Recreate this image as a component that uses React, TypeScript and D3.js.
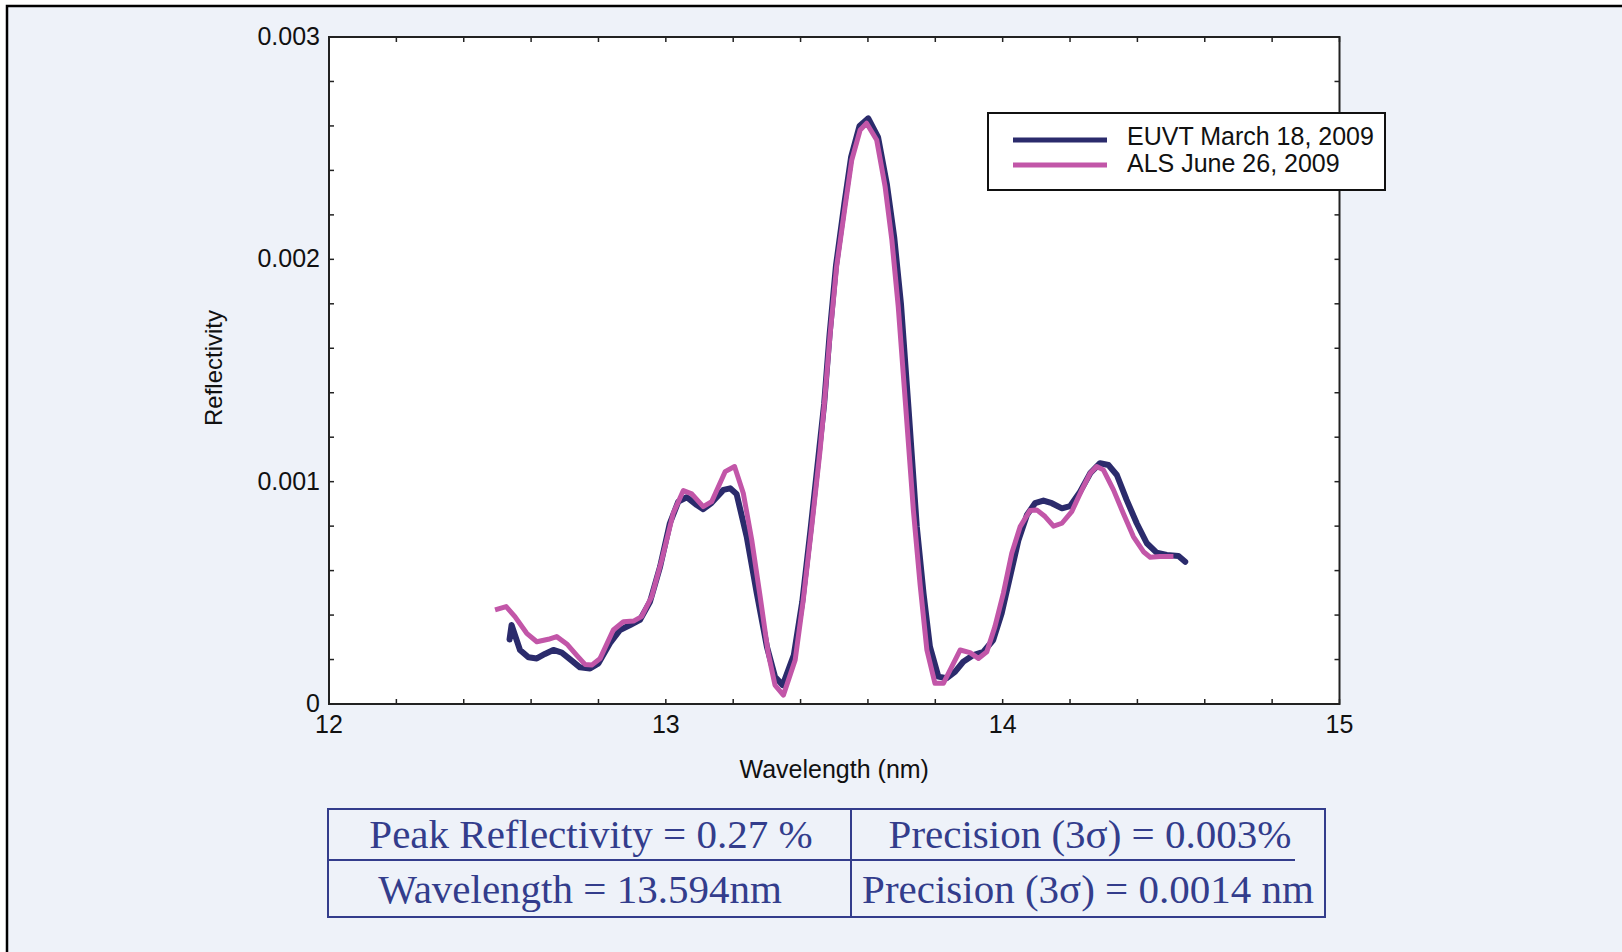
import * as d3 from 'd3';

// axis ticks
const xTicks = [12, 13, 14, 15];
const yTicks = [0, 0.001, 0.002, 0.003];
const yTickLabels = ['0', '0.001', '0.002', '0.003'];

const seriesNames = ['EUVT March 18, 2009', 'ALS June 26, 2009'];

// wavelength (nm), reflectivity
const euvt: [number, number][] = [
  [12.536, 0.00029], [12.542, 0.000355], [12.567, 0.000243], [12.592, 0.00021],
  [12.617, 0.000205], [12.641, 0.000225], [12.666, 0.000243], [12.691, 0.000231],
  [12.716, 0.000201], [12.745, 0.000165], [12.775, 0.00016], [12.8, 0.000183],
  [12.834, 0.000273], [12.864, 0.000333], [12.894, 0.000355], [12.923, 0.000378],
  [12.953, 0.00046], [12.983, 0.000618], [13.012, 0.000813], [13.037, 0.00091],
  [13.062, 0.00093], [13.092, 0.000895], [13.111, 0.000876], [13.136, 0.000905],
  [13.171, 0.000963], [13.191, 0.00097], [13.21, 0.000945], [13.24, 0.000753],
  [13.27, 0.000498], [13.3, 0.000258], [13.324, 0.000123], [13.347, 0.000085],
  [13.38, 0.00022], [13.405, 0.00046], [13.43, 0.00079], [13.455, 0.00114],
  [13.47, 0.00135], [13.486, 0.00166], [13.505, 0.00197], [13.53, 0.00225],
  [13.55, 0.00246], [13.575, 0.0026], [13.601, 0.002634], [13.63, 0.00255],
  [13.656, 0.00234], [13.678, 0.0021], [13.698, 0.0018], [13.72, 0.00134],
  [13.745, 0.000798], [13.765, 0.000498], [13.784, 0.000258], [13.809, 0.000123],
  [13.834, 0.000116], [13.859, 0.000146], [13.883, 0.00019], [13.913, 0.00022],
  [13.943, 0.000235], [13.972, 0.000288], [13.997, 0.000408], [14.022, 0.000573],
  [14.047, 0.000738], [14.072, 0.00085], [14.096, 0.000903], [14.121, 0.000915],
  [14.146, 0.000903], [14.176, 0.00088], [14.2, 0.00089], [14.23, 0.000955],
  [14.26, 0.001038], [14.289, 0.001083], [14.314, 0.001075], [14.339, 0.00103],
  [14.368, 0.000918], [14.398, 0.000813], [14.428, 0.000723], [14.457, 0.000681],
  [14.487, 0.00067], [14.522, 0.000666], [14.542, 0.00064],
];

const als: [number, number][] = [
  [12.493, 0.000423], [12.526, 0.000438], [12.552, 0.000393], [12.587, 0.000318],
  [12.617, 0.00028], [12.651, 0.000291], [12.676, 0.000303], [12.706, 0.00027],
  [12.735, 0.00022], [12.76, 0.000178], [12.78, 0.000175], [12.805, 0.000205],
  [12.844, 0.000333], [12.874, 0.00037], [12.904, 0.000373], [12.928, 0.000393],
  [12.958, 0.000483], [12.988, 0.000648], [13.022, 0.000858], [13.052, 0.00096],
  [13.077, 0.000945], [13.111, 0.000888], [13.136, 0.00091], [13.176, 0.001045],
  [13.204, 0.001068], [13.23, 0.000948], [13.255, 0.000738], [13.28, 0.000483],
  [13.304, 0.000228], [13.324, 0.000085], [13.349, 0.00004], [13.384, 0.000198],
  [13.408, 0.000468], [13.433, 0.000797], [13.458, 0.001142], [13.47, 0.00134],
  [13.488, 0.001667], [13.507, 0.001967], [13.532, 0.002237], [13.552, 0.002447],
  [13.577, 0.002582], [13.596, 0.002612], [13.626, 0.002537], [13.651, 0.002327],
  [13.671, 0.002087], [13.69, 0.001787], [13.712, 0.00134], [13.735, 0.00087],
  [13.755, 0.000535], [13.775, 0.000243], [13.799, 0.000093], [13.824, 0.000093],
  [13.849, 0.000168], [13.874, 0.000243], [13.903, 0.000231], [13.928, 0.000205],
  [13.953, 0.000235], [13.977, 0.000348], [14.002, 0.000498], [14.027, 0.000678],
  [14.052, 0.000798], [14.081, 0.00087], [14.101, 0.000873], [14.126, 0.000843],
  [14.151, 0.0008], [14.176, 0.000813], [14.205, 0.000865], [14.235, 0.000963],
  [14.26, 0.001038], [14.279, 0.001068], [14.299, 0.001053], [14.329, 0.000963],
  [14.358, 0.000858], [14.388, 0.000753], [14.418, 0.000685], [14.438, 0.00066],
  [14.467, 0.000663], [14.507, 0.000663],
];

const tableRows = [
  ['Peak Reflectivity = 0.27 %', 'Precision (3σ) = 0.003%'],
  ['Wavelength = 13.594nm', 'Precision (3σ) = 0.0014 nm'],
];

const W = 1622;
const H = 952;
const NAVY = '#2b2b6c';
const PINK = '#c256a8';
const TABLE_BLUE = '#333d8c';
const sans = 'Liberation Sans, Arial, sans-serif';
const serif = 'Liberation Serif, Times New Roman, serif';

export default function App() {
  const plot = { left: 329, right: 1339.5, top: 37, bottom: 704 };
  const x = d3.scaleLinear().domain([12, 15]).range([plot.left, plot.right]);
  const y = d3.scaleLinear().domain([0, 0.003]).range([plot.bottom, plot.top]);

  const line = d3
    .line<[number, number]>()
    .x(d => x(d[0]))
    .y(d => y(d[1]));

  const xMinor = d3.range(0, 16).map(i => 12 + i * 0.2);
  const yMinor = d3.range(0, 16).map(i => i * 0.0002);

  // table geometry
  const tb = { left: 328, right: 1325, top: 809, mid: 860, bottom: 917, col: 851 };

  return (
    <svg width={W} height={H} style={{ position: 'absolute', left: 0, top: 0 }}>
      <rect x={0} y={0} width={W} height={H} fill="#fff" />
      <rect x={7} y={6} width={W} height={H} fill="#eef2f9" />
      <path d={`M7,${H} V6 H${W}`} fill="none" stroke="#000" strokeWidth={2.5} />

      {/* plot area */}
      <rect
        x={plot.left}
        y={plot.top}
        width={plot.right - plot.left}
        height={plot.bottom - plot.top}
        fill="#fff"
        stroke="#222"
        strokeWidth={2}
      />

      {/* minor ticks, inward on all four sides */}
      <g stroke="#222" strokeWidth={1.5}>
        {xMinor.map((v, i) => (
          <g key={'xm' + i}>
            <line x1={x(v)} x2={x(v)} y1={plot.bottom} y2={plot.bottom - 5} />
            <line x1={x(v)} x2={x(v)} y1={plot.top} y2={plot.top + 5} />
          </g>
        ))}
        {yMinor.map((v, i) => (
          <g key={'ym' + i}>
            <line x1={plot.left} x2={plot.left + 5} y1={y(v)} y2={y(v)} />
            <line x1={plot.right} x2={plot.right - 5} y1={y(v)} y2={y(v)} />
          </g>
        ))}
      </g>

      {/* tick labels */}
      <g fontFamily={sans} fontSize={25} fill="#111">
        {xTicks.map(v => (
          <text key={'xt' + v} x={x(v)} y={plot.bottom + 29} textAnchor="middle">
            {v}
          </text>
        ))}
        {yTicks.map((v, i) => (
          <text key={'yt' + v} x={plot.left - 9} y={y(v) + 8} textAnchor="end">
            {yTickLabels[i]}
          </text>
        ))}
      </g>

      <text x={(plot.left + plot.right) / 2} y={778} textAnchor="middle" fontFamily={sans} fontSize={25} fill="#111">
        Wavelength (nm)
      </text>
      <text
        transform={`translate(222,368) rotate(-90)`}
        textAnchor="middle"
        fontFamily={sans}
        fontSize={24}
        fill="#111"
      >
        Reflectivity
      </text>

      {/* series */}
      <path d={line(euvt) ?? ''} fill="none" stroke={NAVY} strokeWidth={6} strokeLinejoin="round" strokeLinecap="round" />
      <path d={line(als) ?? ''} fill="none" stroke={PINK} strokeWidth={5} strokeLinejoin="round" />

      {/* legend */}
      <rect x={988} y={113} width={397} height={77} fill="#fff" stroke="#111" strokeWidth={2} />
      {seriesNames.map((name, i) => (
        <g key={name}>
          <line x1={1013} x2={1107} y1={140 + i * 25} y2={140 + i * 25} stroke={i === 0 ? NAVY : PINK} strokeWidth={5} />
          <text x={1127} y={145 + i * 27} fontFamily={sans} fontSize={25} fill="#111">
            {name}
          </text>
        </g>
      ))}

      {/* results table */}
      <g stroke={TABLE_BLUE} strokeWidth={2} fill="none">
        <rect x={tb.left} y={tb.top} width={tb.right - tb.left} height={tb.bottom - tb.top} />
        <line x1={tb.col} x2={tb.col} y1={tb.top} y2={tb.bottom} />
        <line x1={tb.left} x2={1295} y1={tb.mid} y2={tb.mid} />
      </g>
      <g fontFamily={serif} fontSize={41} fill={TABLE_BLUE} textAnchor="middle">
        {tableRows.map((row, r) => (
          <g key={'row' + r}>
            <text x={r === 0 ? 591 : 580} y={r === 0 ? 848 : 903}>{row[0]}</text>
            <text x={r === 0 ? 1090 : 1088} y={r === 0 ? 848 : 903}>{row[1]}</text>
          </g>
        ))}
      </g>
    </svg>
  );
}
